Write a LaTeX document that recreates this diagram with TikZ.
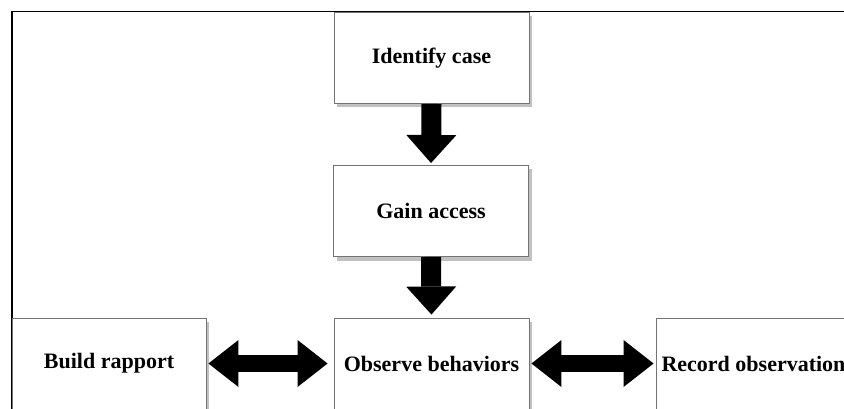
\documentclass[tikz,border=0pt]{standalone}
\usepackage{fontspec}
\setmainfont{Liberation Serif}
\usetikzlibrary{arrows.meta,shadows}
\begin{document}
\begin{tikzpicture}[x=1pt,y=1pt,
  stagebox/.style={draw=black!55, line width=0.9pt, fill=white,
    minimum width=195pt, minimum height=91pt, inner sep=0pt,
    font=\fontsize{22}{26}\selectfont\bfseries,
    drop shadow={shadow xshift=3pt, shadow yshift=-4pt, fill=black!35, opacity=0.7}},
  flowdown/.style={line width=20pt, draw=black,
    -{Triangle[width=50pt,length=28pt,line width=0pt]}},
  flowboth/.style={line width=17pt, draw=black,
    {Triangle[width=47pt,length=30pt,line width=0pt]}-{Triangle[width=47pt,length=30pt,line width=0pt]}}
]
\useasboundingbox (0,0) rectangle (844,-409);
\clip (0,0) rectangle (844,-409);

% outer frame
\draw[line width=1.5pt] (12,-500) |- (900,-11.5);

% stages
\node[stagebox] (idc)   at (431.5,-58)  {Identify case};
\node[stagebox] (gain)  at (431,-211)   {Gain access};
\node[stagebox] (obs)   at (431.5,-363.5) {Observe behaviors};
\node[stagebox, minimum width=194pt] (build) at (109,-363.5) {Build rapport};
\node[stagebox] (rec)   at (753.5,-363.5) {Record observation};

% connectors
\draw[flowdown, shorten >=2pt] (idc.south) -- (gain.north);
\draw[flowdown, shorten >=3pt] (gain.south) -- (obs.north);
\draw[flowboth, shorten <=2pt, shorten >=6pt] (build.east) -- (obs.west);
\draw[flowboth, shorten <=2pt, shorten >=2pt] (obs.east) -- (rec.west);
\end{tikzpicture}
\end{document}
